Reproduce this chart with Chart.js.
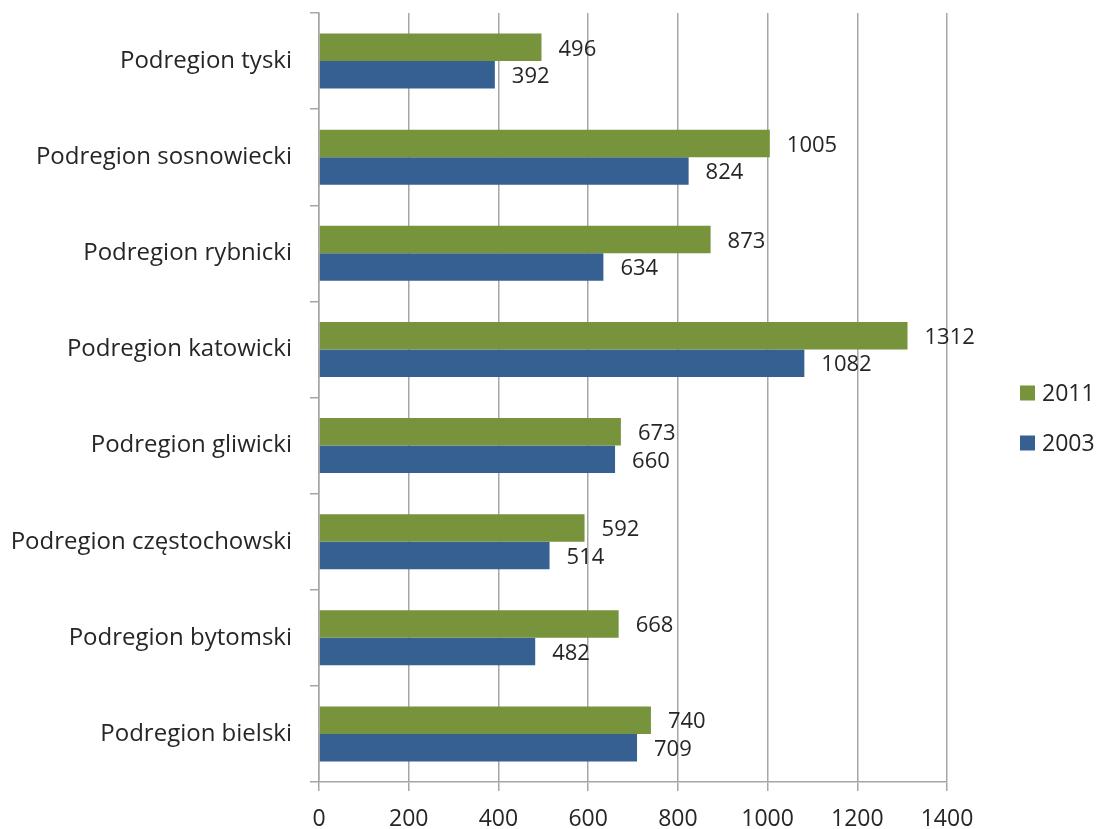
<!DOCTYPE html>
<html lang="pl">
<head>
<meta charset="utf-8">
<title>Podregiony</title>
<script src="https://cdn.jsdelivr.net/npm/chart.js@4.4.1/dist/chart.umd.min.js"></script>
<style>
  html, body { margin: 0; padding: 0; background: #fff; }
  #wrap { width: 1099px; height: 829px; position: relative; }
</style>
</head>
<body>
<div id="wrap"><canvas id="podregionChart"></canvas></div>
<script>
const categories = [
  "Podregion tyski",
  "Podregion sosnowiecki",
  "Podregion rybnicki",
  "Podregion katowicki",
  "Podregion gliwicki",
  "Podregion częstochowski",
  "Podregion bytomski",
  "Podregion bielski"
];
const values2011 = [496, 1005, 873, 1312, 673, 592, 668, 740];
const values2003 = [392, 824, 634, 1082, 660, 514, 482, 709];
const seriesLabels = ["2011", "2003"];
const xTicks = [0, 200, 400, 600, 800, 1000, 1200, 1400];

(() => {
  const $ = (id) => document.getElementById(id);

  const FONT = "'Open Sans', 'Liberation Sans', sans-serif";
  const TEXT = "#262626";
  const GRID = "#a6a6a6";
  const GREEN = "#77933c";
  const BLUE = "#376092";

  // value labels to the right of each bar
  const valueLabels = {
    id: "valueLabels",
    afterDatasetsDraw(chart) {
      const ctx = chart.ctx;
      ctx.save();
      ctx.font = "22px " + FONT;
      ctx.fillStyle = TEXT;
      ctx.textAlign = "left";
      ctx.textBaseline = "middle";
      chart.data.datasets.forEach((ds, di) => {
        chart.getDatasetMeta(di).data.forEach((bar, i) => {
          ctx.fillText(String(ds.data[i]), bar.x + 17, bar.y + 2);
        });
      });
      ctx.restore();
    }
  };

  // legend on the right, squares + year
  const sideLegend = {
    id: "sideLegend",
    afterDraw(chart) {
      const ctx = chart.ctx;
      const x = 1020;
      const ys = [393, 443];
      ctx.save();
      ctx.font = "23px " + FONT;
      ctx.textAlign = "left";
      ctx.textBaseline = "middle";
      chart.data.datasets.forEach((ds, i) => {
        ctx.fillStyle = ds.backgroundColor;
        ctx.fillRect(x, ys[i] - 7.5, 15, 15);
        ctx.fillStyle = TEXT;
        ctx.fillText(ds.label, x + 22, ys[i] + 1);
      });
      ctx.restore();
    }
  };

  new Chart($("podregionChart"), {
    type: "bar",
    data: {
      labels: categories,
      datasets: [
        { label: seriesLabels[0], data: values2011, backgroundColor: GREEN },
        { label: seriesLabels[1], data: values2003, backgroundColor: BLUE }
      ]
    },
    options: {
      indexAxis: "y",
      responsive: true,
      maintainAspectRatio: false,
      animation: false,
      categoryPercentage: 0.572,
      barPercentage: 1,
      layout: { padding: { top: 13, right: 152, left: 0, bottom: 0 } },
      scales: {
        x: {
          min: 0,
          max: 1400,
          afterFit(scale) { scale.height = 47; },
          afterBuildTicks(scale) { scale.ticks = xTicks.map(v => ({ value: v })); },
          grid: { color: GRID, lineWidth: 1.5, tickLength: 9, drawTicks: true },
          border: { color: GRID, width: 1.5 },
          ticks: {
            color: TEXT,
            font: { family: FONT, size: 23 },
            padding: 15,
            callback: (v) => String(v)
          }
        },
        y: {
          afterFit(scale) {
            scale.width = 319;
            scale.paddingTop = 0;
            scale.paddingBottom = 0;
          },
          grid: { drawOnChartArea: false, color: GRID, lineWidth: 1.5, tickLength: 9, offset: true },
          border: { color: GRID, width: 1.5 },
          ticks: { color: TEXT, font: { family: FONT, size: 24 }, padding: 18 }
        }
      },
      plugins: {
        legend: { display: false },
        tooltip: { enabled: false }
      }
    },
    plugins: [valueLabels, sideLegend]
  });
})();
</script>
</body>
</html>
